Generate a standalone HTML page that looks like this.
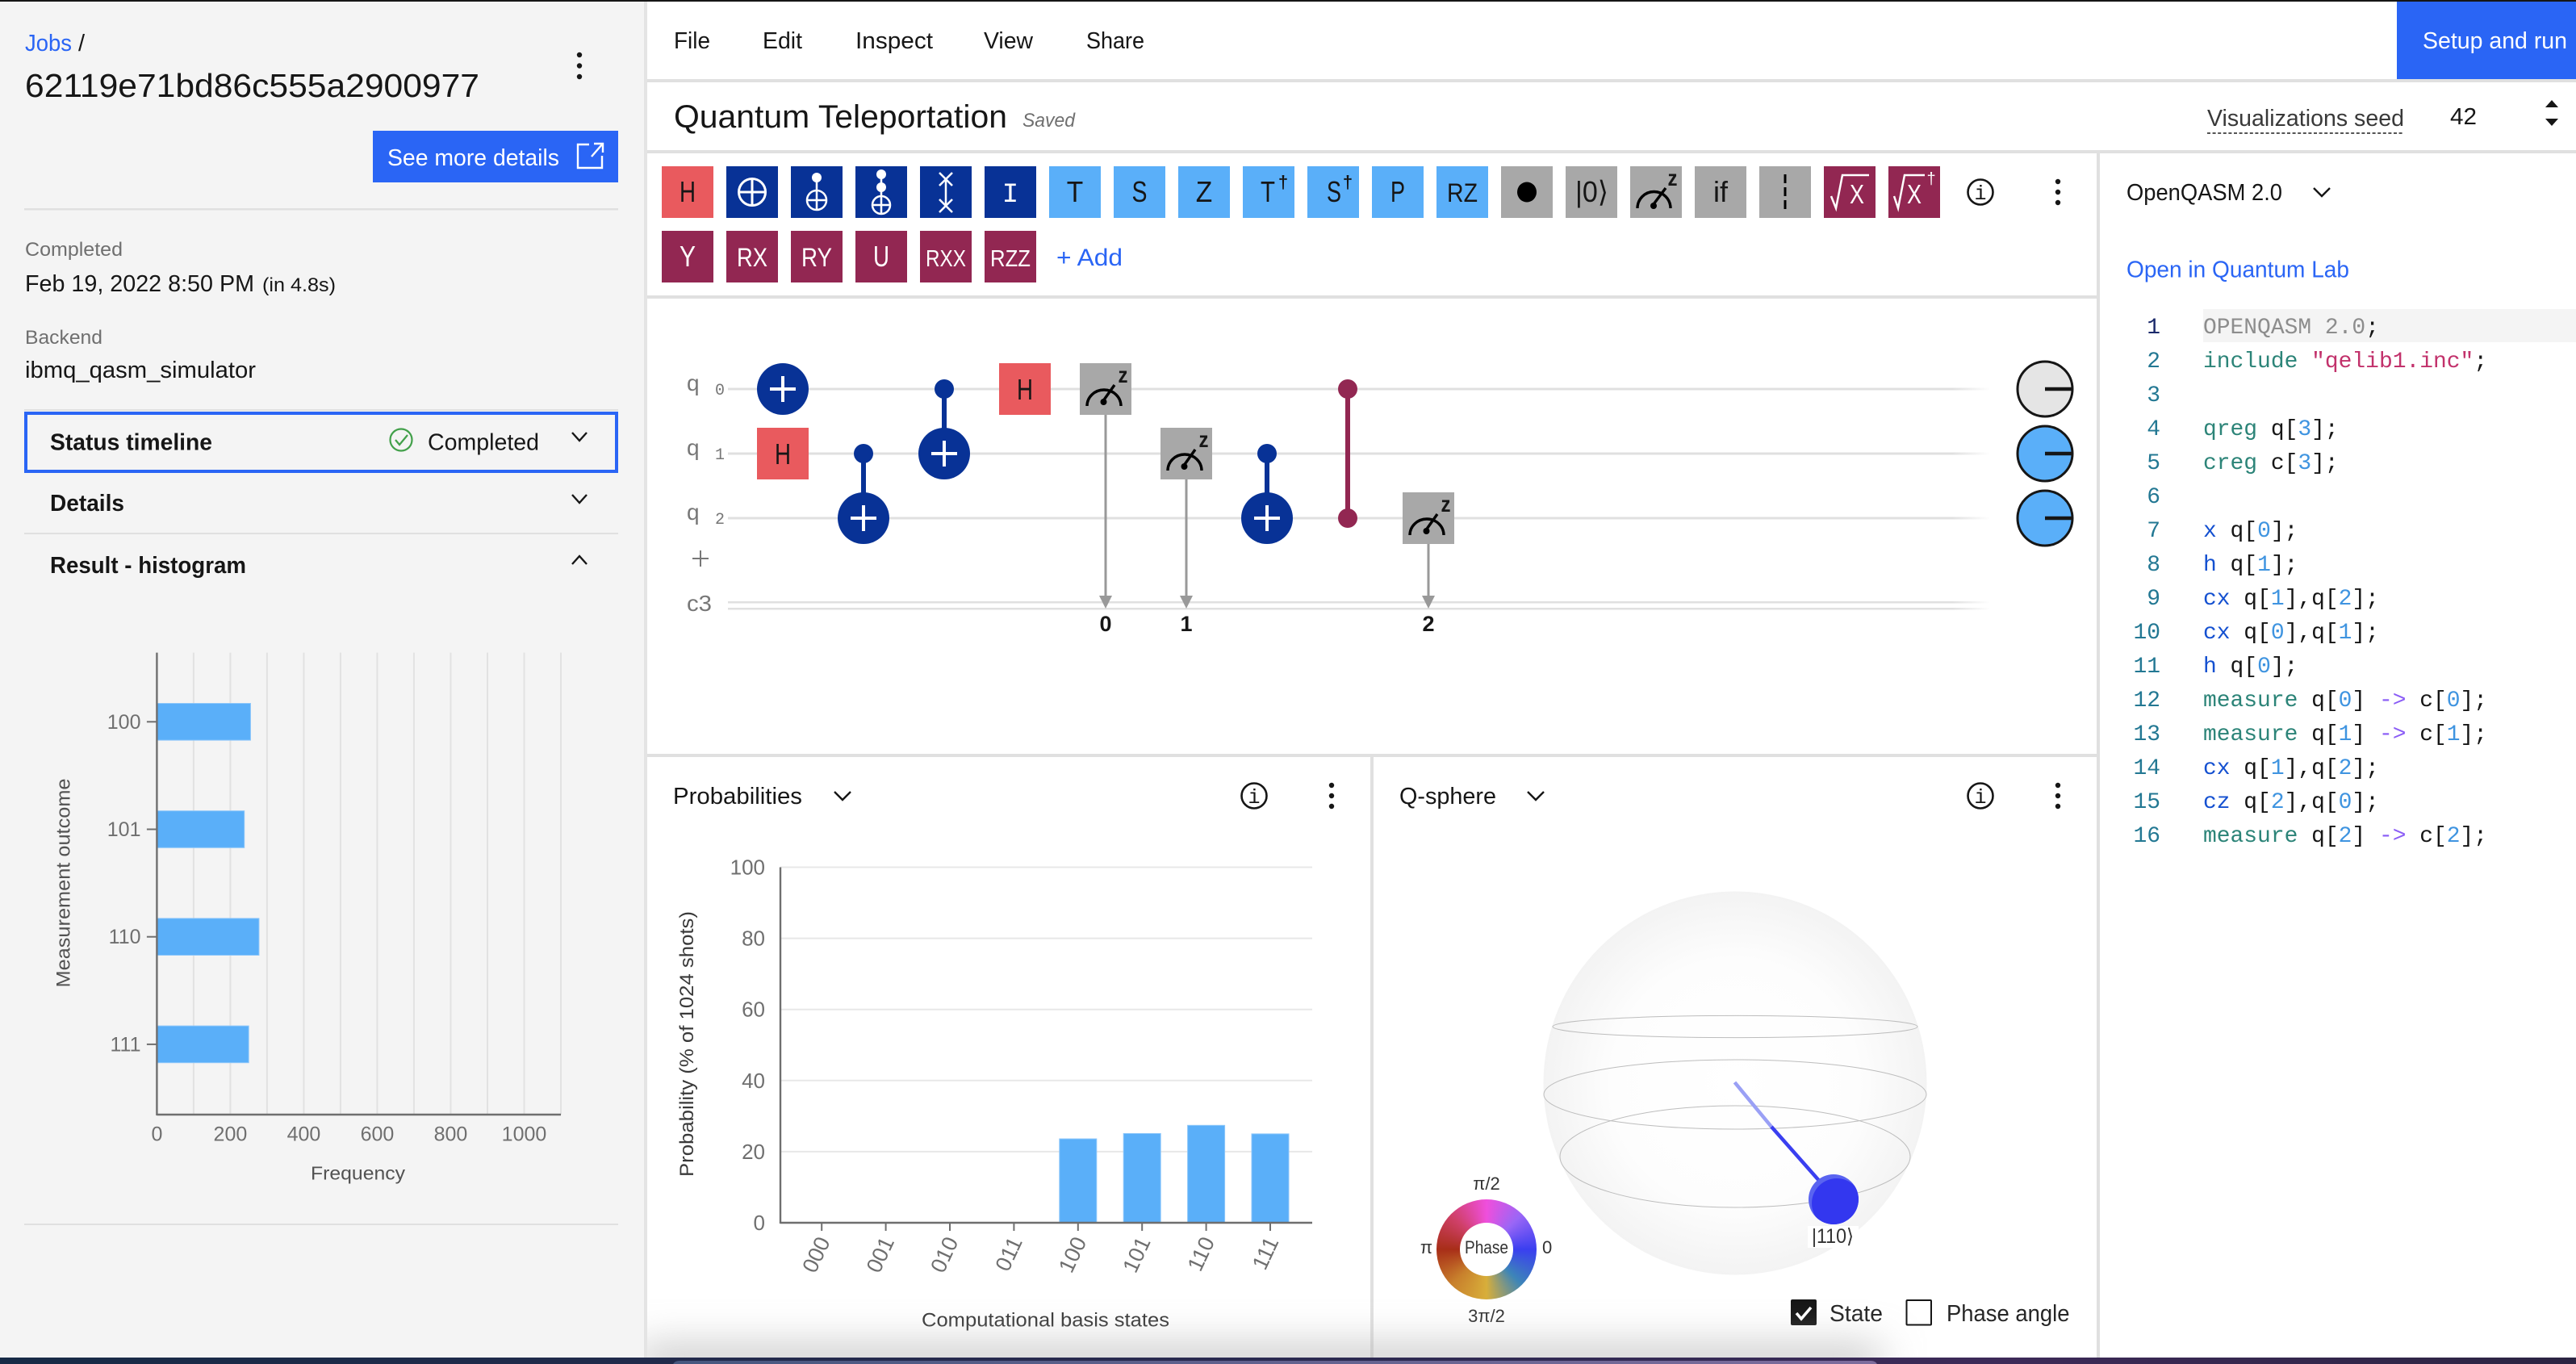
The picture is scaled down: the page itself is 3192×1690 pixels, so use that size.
<!DOCTYPE html>
<html lang="en">
<head>
<meta charset="utf-8">
<title>Quantum Teleportation - IBM Quantum Composer job</title>
<style>
html,body{margin:0;padding:0;background:#fff;width:3192px;height:1690px;overflow:hidden}
svg{display:block}
text{font-family:"Liberation Sans",sans-serif;fill:#161616}
.mono,.mono tspan{font-family:"Liberation Mono",monospace}
.code{font-family:"Liberation Mono",monospace;font-size:27.95px;white-space:pre;fill:#161616}
.ln{font-family:"Liberation Mono",monospace;font-size:27.95px;fill:#237893;text-anchor:end}
.k{fill:#1450d0}.t{fill:#2c8478}.n{fill:#3f94e0}.s{fill:#c2316b}.o{fill:#8a5cf6}
.gt{font-size:36px;text-anchor:middle}
.w{fill:#fff}
.chev{fill:none;stroke:#161616;stroke-width:2.4}
.rule{fill:#e0e0e0}
</style>
</head>
<body>
<svg id="page" xmlns="http://www.w3.org/2000/svg" width="3192" height="1690" viewBox="0 0 3192 1690">
<defs>
<radialGradient id="sphereFill" cx="50%" cy="50%" r="50%">
<stop offset="0" stop-color="#ffffff"/><stop offset="0.65" stop-color="#fdfdfd"/><stop offset="1" stop-color="#f3f3f3"/>
</radialGradient>
<linearGradient id="wireFade" x1="0" x2="1" y1="0" y2="0">
<stop offset="0" stop-color="#e0e0e0"/><stop offset="0.97" stop-color="#e0e0e0"/><stop offset="1" stop-color="#e0e0e0" stop-opacity="0"/>
</linearGradient>
<linearGradient id="stripGrad" x1="0" x2="1" y1="0" y2="0">
<stop offset="0" stop-color="#172a46"/><stop offset="0.5" stop-color="#2b2a50"/><stop offset="0.78" stop-color="#3d2a58"/><stop offset="1" stop-color="#2b2442"/>
</linearGradient>
<linearGradient id="barGrad" x1="0" x2="1" y1="0" y2="0">
<stop offset="0" stop-color="#46577f"/><stop offset="1" stop-color="#7d6c9d"/>
</linearGradient>
<filter id="shadowBlur" x="-10%" y="-300%" width="120%" height="700%"><feGaussianBlur stdDeviation="26"/></filter>
<clipPath id="shadowClip"><rect x="802" y="1560" width="1796" height="122"/></clipPath>
<clipPath id="ballClip"><circle cx="2272" cy="1486" r="31"/></clipPath>
</defs>

<rect width="3192" height="1690" fill="#ffffff"/>

<!-- left panel -->
<g>
<rect x="0" y="0" width="798" height="1690" fill="#f4f4f4"/>
<rect x="798" y="0" width="4" height="1690" fill="#e4e4e4"/>
<text x="31" y="63" font-size="29" fill="#2a65f5" style="fill:#2a65f5" textLength="58" lengthAdjust="spacingAndGlyphs">Jobs</text>
<text x="97" y="63" font-size="29">/</text>
<text x="31" y="120" font-size="41" textLength="563" lengthAdjust="spacingAndGlyphs">62119e71bd86c555a2900977</text>
<g fill="#161616"><circle cx="718" cy="68" r="3.2"/><circle cx="718" cy="81.5" r="3.2"/><circle cx="718" cy="95" r="3.2"/></g>
<g>
<rect x="462" y="162" width="304" height="64" fill="#2a65f5"/>
<text x="480" y="205" font-size="28.5" class="w" style="fill:#fff" textLength="213" lengthAdjust="spacingAndGlyphs">See more details</text>
<path d="M730 179 H716 V208 H746 V193 M733 194 L746 179 M736 178 H747 V189" fill="none" stroke="#fff" stroke-width="2.4"/>
</g>
<rect x="30" y="258" width="736" height="2.5" class="rule"/>
<text x="31" y="317" font-size="24.5" style="fill:#6f6f6f" textLength="121" lengthAdjust="spacingAndGlyphs">Completed</text>
<text x="31" y="361" font-size="28.5" textLength="284" lengthAdjust="spacingAndGlyphs">Feb 19, 2022 8:50 PM</text>
<text x="325" y="361" font-size="24.5" textLength="91" lengthAdjust="spacingAndGlyphs">(in 4.8s)</text>
<text x="31" y="426" font-size="24.5" style="fill:#6f6f6f" textLength="96" lengthAdjust="spacingAndGlyphs">Backend</text>
<text x="31" y="468" font-size="28.5" textLength="286" lengthAdjust="spacingAndGlyphs">ibmq_qasm_simulator</text>
<rect x="30" y="507" width="736" height="2" class="rule"/>
<g>
<rect x="32" y="512" width="732" height="72" fill="none" stroke="#2a65f5" stroke-width="4"/>
<text x="62" y="557.5" font-size="28.5" font-weight="700" textLength="201" lengthAdjust="spacingAndGlyphs">Status timeline</text>
<circle cx="497" cy="545" r="13.5" fill="none" stroke="#42a04a" stroke-width="2.2"/>
<path d="M490 545 L495 551 L505 539" fill="none" stroke="#42a04a" stroke-width="2.2"/>
<text x="530" y="557.5" font-size="28.5" textLength="138" lengthAdjust="spacingAndGlyphs">Completed</text>
<polyline class="chev" points="709,566 718,576 727,566" transform="translate(0,-30)"/>
</g>
<g>
<text x="62" y="633" font-size="28.5" font-weight="700" textLength="92" lengthAdjust="spacingAndGlyphs">Details</text>
<polyline class="chev" points="709,613 718,623 727,613"/>
</g>
<rect x="30" y="660" width="736" height="2" class="rule"/>
<g>
<text x="62" y="710" font-size="28.5" font-weight="700" textLength="243" lengthAdjust="spacingAndGlyphs">Result - histogram</text>
<polyline class="chev" points="709,699 718,689 727,699"/>
</g>
<g id="histogram"></g>
<rect x="30" y="1516" width="736" height="2" class="rule"/>
</g>

<!-- menu bar -->
<g>
<rect x="802" y="98" width="2390" height="4" class="rule"/>
<text x="835" y="60" font-size="28.5" textLength="45" lengthAdjust="spacingAndGlyphs">File</text>
<text x="945" y="60" font-size="28.5" textLength="49" lengthAdjust="spacingAndGlyphs">Edit</text>
<text x="1060" y="60" font-size="28.5" textLength="96" lengthAdjust="spacingAndGlyphs">Inspect</text>
<text x="1219" y="60" font-size="28.5" textLength="61" lengthAdjust="spacingAndGlyphs">View</text>
<text x="1346" y="60" font-size="28.5" textLength="72" lengthAdjust="spacingAndGlyphs">Share</text>
<g>
<rect x="2970" y="2" width="222" height="96" fill="#2a65f5"/>
<text x="3002" y="60" font-size="28.5" class="w" style="fill:#fff" textLength="179" lengthAdjust="spacingAndGlyphs">Setup and run</text>
</g>
</g>

<!-- title row -->
<g>
<text x="835" y="158" font-size="40" textLength="413" lengthAdjust="spacingAndGlyphs">Quantum Teleportation</text>
<text x="1267" y="157" font-size="24.5" font-style="italic" style="fill:#6f6f6f" textLength="65" lengthAdjust="spacingAndGlyphs">Saved</text>
<text x="2735" y="156" font-size="28.5" style="fill:#393939" textLength="244" lengthAdjust="spacingAndGlyphs">Visualizations seed</text>
<line x1="2735" y1="165" x2="2979" y2="165" stroke="#555" stroke-width="2" stroke-dasharray="4 2.6"/>
<text x="3036" y="154" font-size="28.5" textLength="33" lengthAdjust="spacingAndGlyphs">42</text>
<polygon points="3162,124 3170,133 3154,133" fill="#161616"/>
<polygon points="3162,156 3170,147 3154,147" fill="#161616"/>
<rect x="802" y="186" width="2390" height="4" class="rule"/>
</g>

<!-- gate palette -->
<g>
<rect x="802" y="366" width="1796" height="4" class="rule"/>
<g><rect x="820" y="206" width="64" height="64" fill="#e95a5e"/><text x="852" y="250" class="gt" textLength="20" lengthAdjust="spacingAndGlyphs">H</text></g>
<g><rect x="900" y="206" width="64" height="64" fill="#083296"/><circle cx="932" cy="238" r="16.5" fill="none" stroke="#fff" stroke-width="3"/><path d="M915 238H949M932 221V255" stroke="#fff" stroke-width="3"/></g>
<g><rect x="980" y="206" width="64" height="64" fill="#083296"/><circle cx="1012" cy="220" r="6" fill="#fff"/><path d="M1012 220V260" stroke="#fff" stroke-width="2.5"/><circle cx="1012" cy="248" r="12" fill="none" stroke="#fff" stroke-width="2.5"/><path d="M1000 248H1024" stroke="#fff" stroke-width="2.5"/></g>
<g><rect x="1060" y="206" width="64" height="64" fill="#083296"/><circle cx="1092" cy="216" r="6" fill="#fff"/><circle cx="1092" cy="232" r="6" fill="#fff"/><path d="M1092 216V265" stroke="#fff" stroke-width="2.5"/><circle cx="1092" cy="254" r="11" fill="none" stroke="#fff" stroke-width="2.5"/><path d="M1081 254H1103" stroke="#fff" stroke-width="2.5"/></g>
<g><rect x="1140" y="206" width="64" height="64" fill="#083296"/><path d="M1172 222V255M1164 214L1180 230M1180 214L1164 230M1164 247L1180 263M1180 247L1164 263" stroke="#fff" stroke-width="2.5" fill="none"/></g>
<g><rect x="1220" y="206" width="64" height="64" fill="#083296"/><text x="1252" y="250" class="gt mono w" style="font-size:34px;fill:#fff">I</text></g>
<g><rect x="1300" y="206" width="64" height="64" fill="#5aaff9"/><text x="1332" y="250" class="gt" textLength="20.5" lengthAdjust="spacingAndGlyphs">T</text></g>
<g><rect x="1380" y="206" width="64" height="64" fill="#5aaff9"/><text x="1412" y="250" class="gt" textLength="19" lengthAdjust="spacingAndGlyphs">S</text></g>
<g><rect x="1460" y="206" width="64" height="64" fill="#5aaff9"/><text x="1492" y="250" class="gt" textLength="20.5" lengthAdjust="spacingAndGlyphs">Z</text></g>
<g><rect x="1540" y="206" width="64" height="64" fill="#5aaff9"/><text x="1571" y="250" class="gt" textLength="18" lengthAdjust="spacingAndGlyphs">T</text><text x="1590" y="233" class="gt" style="font-size:22px;font-weight:700">†</text></g>
<g><rect x="1620" y="206" width="64" height="64" fill="#5aaff9"/><text x="1653" y="250" class="gt" textLength="18" lengthAdjust="spacingAndGlyphs">S</text><text x="1670" y="233" class="gt" style="font-size:22px;font-weight:700">†</text></g>
<g><rect x="1700" y="206" width="64" height="64" fill="#5aaff9"/><text x="1732" y="250" class="gt" textLength="18" lengthAdjust="spacingAndGlyphs">P</text></g>
<g><rect x="1780" y="206" width="64" height="64" fill="#5aaff9"/><text x="1793" y="250" style="font-size:32px" textLength="38" lengthAdjust="spacingAndGlyphs">RZ</text></g>
<g><rect x="1860" y="206" width="64" height="64" fill="#a8a8a8"/><ellipse cx="1892" cy="238" rx="12" ry="12.5" fill="#000"/></g>
<g><rect x="1940" y="206" width="64" height="64" fill="#a8a8a8"/><text x="1952" y="250" style="font-size:36px" textLength="41" lengthAdjust="spacingAndGlyphs">|0⟩</text></g>
<g><rect x="2020" y="206" width="64" height="64" fill="#a8a8a8"/><path d="M2029 258A20.5 20.5 0 0 1 2070 258" fill="none" stroke="#000" stroke-width="3.4"/><path d="M2049 253L2064 233" stroke="#000" stroke-width="3.4"/><circle cx="2049" cy="255" r="4" fill="#000"/><text x="2072.5" y="230" class="gt" style="font-size:28px;font-weight:700" textLength="12" lengthAdjust="spacingAndGlyphs">z</text></g>
<g><rect x="2100" y="206" width="64" height="64" fill="#a8a8a8"/><text x="2132" y="250" class="gt">if</text></g>
<g><rect x="2180" y="206" width="64" height="64" fill="#a8a8a8"/><line x1="2212" y1="216" x2="2212" y2="262" stroke="#000" stroke-width="3" stroke-dasharray="11 5"/></g>
<g><rect x="2260" y="206" width="64" height="64" fill="#922752"/><polyline points="2269,243 2275,258 2283,217 2316,217" fill="none" stroke="#fff" stroke-width="2.5"/><text x="2301" y="252" class="gt w" style="font-size:33px;fill:#fff" textLength="18" lengthAdjust="spacingAndGlyphs">X</text></g>
<g><rect x="2340" y="206" width="64" height="64" fill="#922752"/><polyline points="2347,243 2352,258 2360,217 2385,217" fill="none" stroke="#fff" stroke-width="2.5"/><text x="2372" y="252" class="gt w" style="font-size:33px;fill:#fff" textLength="18" lengthAdjust="spacingAndGlyphs">X</text><text x="2393" y="228" class="gt w" style="font-size:20px;fill:#fff">†</text></g>
<g><circle cx="2454" cy="238" r="15.5" fill="none" stroke="#161616" stroke-width="2.6"/><text x="2454" y="247" class="gt mono" style="font-size:25px">i</text></g>
<g fill="#161616"><circle cx="2550" cy="225" r="3.2"/><circle cx="2550" cy="238" r="3.2"/><circle cx="2550" cy="251" r="3.2"/></g>
<g><rect x="820" y="286" width="64" height="64" fill="#922752"/><text x="852" y="330" class="gt w" style="fill:#fff" textLength="20" lengthAdjust="spacingAndGlyphs">Y</text></g>
<g><rect x="900" y="286" width="64" height="64" fill="#922752"/><text x="913" y="330" class="w" style="font-size:32px;fill:#fff" textLength="38" lengthAdjust="spacingAndGlyphs">RX</text></g>
<g><rect x="980" y="286" width="64" height="64" fill="#922752"/><text x="993" y="330" class="w" style="font-size:32px;fill:#fff" textLength="38" lengthAdjust="spacingAndGlyphs">RY</text></g>
<g><rect x="1060" y="286" width="64" height="64" fill="#922752"/><text x="1092" y="330" class="gt w" style="fill:#fff" textLength="20" lengthAdjust="spacingAndGlyphs">U</text></g>
<g><rect x="1140" y="286" width="64" height="64" fill="#922752"/><text x="1147" y="330" class="w" style="font-size:29px;fill:#fff" textLength="50" lengthAdjust="spacingAndGlyphs">RXX</text></g>
<g><rect x="1220" y="286" width="64" height="64" fill="#922752"/><text x="1227" y="330" class="w" style="font-size:29px;fill:#fff" textLength="50" lengthAdjust="spacingAndGlyphs">RZZ</text></g>
<text x="1309" y="329" font-size="30" style="fill:#2a65f5" textLength="82" lengthAdjust="spacingAndGlyphs">+ Add</text>
</g>

<!-- circuit -->
<g>
<g>
<rect x="902" y="480.5" width="1564" height="3" fill="url(#wireFade)"/>
<rect x="902" y="560.5" width="1564" height="3" fill="url(#wireFade)"/>
<rect x="902" y="640.5" width="1564" height="3" fill="url(#wireFade)"/>
<rect x="902" y="745" width="1564" height="2.5" fill="url(#wireFade)"/>
<rect x="902" y="753" width="1564" height="2.5" fill="url(#wireFade)"/>
</g>
<g><text x="851" y="484" font-size="28" style="fill:#777">q</text><text x="886" y="489" class="mono" font-size="20" style="fill:#777">0</text></g>
<g><text x="851" y="564" font-size="28" style="fill:#777">q</text><text x="886" y="569" class="mono" font-size="20" style="fill:#777">1</text></g>
<g><text x="851" y="644" font-size="28" style="fill:#777">q</text><text x="886" y="649" class="mono" font-size="20" style="fill:#777">2</text></g>
<path d="M858 692H878M868 682V702" stroke="#777" stroke-width="2"/>
<text x="851" y="757" font-size="28" style="fill:#777" textLength="31" lengthAdjust="spacingAndGlyphs">c3</text>

<g><circle cx="970" cy="482" r="32" fill="#083296"/><path d="M954 482H986M970 466V498" stroke="#fff" stroke-width="4"/></g>
<g><rect x="938" y="530" width="64" height="64" fill="#e95a5e"/><text x="970" y="575" class="gt" textLength="20" lengthAdjust="spacingAndGlyphs">H</text></g>
<g><line x1="1070" y1="562" x2="1070" y2="642" stroke="#083296" stroke-width="6"/><circle cx="1070" cy="562" r="12" fill="#083296"/><circle cx="1070" cy="642" r="32" fill="#083296"/><path d="M1054 642H1086M1070 626V658" stroke="#fff" stroke-width="4"/></g>
<g><line x1="1170" y1="482" x2="1170" y2="562" stroke="#083296" stroke-width="6"/><circle cx="1170" cy="482" r="12" fill="#083296"/><circle cx="1170" cy="562" r="32" fill="#083296"/><path d="M1154 562H1186M1170 546V578" stroke="#fff" stroke-width="4"/></g>
<g><rect x="1238" y="450" width="64" height="64" fill="#e95a5e"/><text x="1270" y="495" class="gt" textLength="20" lengthAdjust="spacingAndGlyphs">H</text></g>

<g><line x1="1370" y1="514" x2="1370" y2="742" stroke="#999" stroke-width="3"/><polygon points="1362,738 1378,738 1370,754" fill="#999"/><rect x="1338" y="450" width="64" height="64" fill="#a8a8a8"/><path d="M1347 503A21 20 0 0 1 1389 503" fill="none" stroke="#000" stroke-width="3.4"/><path d="M1367.5 496L1381 477" stroke="#000" stroke-width="3.4"/><circle cx="1367.5" cy="498" r="4" fill="#000"/><text x="1391.5" y="474" class="gt" style="font-size:28px;font-weight:700" textLength="12" lengthAdjust="spacingAndGlyphs">z</text><text x="1370" y="782" class="gt" style="font-size:27px;font-weight:700">0</text></g>
<g><line x1="1470" y1="594" x2="1470" y2="742" stroke="#999" stroke-width="3"/><polygon points="1462,738 1478,738 1470,754" fill="#999"/><rect x="1438" y="530" width="64" height="64" fill="#a8a8a8"/><path d="M1447 583A21 20 0 0 1 1489 583" fill="none" stroke="#000" stroke-width="3.4"/><path d="M1467.5 576L1481 557" stroke="#000" stroke-width="3.4"/><circle cx="1467.5" cy="578" r="4" fill="#000"/><text x="1491.5" y="554" class="gt" style="font-size:28px;font-weight:700" textLength="12" lengthAdjust="spacingAndGlyphs">z</text><text x="1470" y="782" class="gt" style="font-size:27px;font-weight:700">1</text></g>
<g><line x1="1570" y1="562" x2="1570" y2="642" stroke="#083296" stroke-width="6"/><circle cx="1570" cy="562" r="12" fill="#083296"/><circle cx="1570" cy="642" r="32" fill="#083296"/><path d="M1554 642H1586M1570 626V658" stroke="#fff" stroke-width="4"/></g>
<g><line x1="1670" y1="482" x2="1670" y2="642" stroke="#922752" stroke-width="6"/><circle cx="1670" cy="482" r="12" fill="#922752"/><circle cx="1670" cy="642" r="12" fill="#922752"/></g>
<g><line x1="1770" y1="674" x2="1770" y2="742" stroke="#999" stroke-width="3"/><polygon points="1762,738 1778,738 1770,754" fill="#999"/><rect x="1738" y="610" width="64" height="64" fill="#a8a8a8"/><path d="M1747 663A21 20 0 0 1 1789 663" fill="none" stroke="#000" stroke-width="3.4"/><path d="M1767.5 656L1781 637" stroke="#000" stroke-width="3.4"/><circle cx="1767.5" cy="658" r="4" fill="#000"/><text x="1791.5" y="634" class="gt" style="font-size:28px;font-weight:700" textLength="12" lengthAdjust="spacingAndGlyphs">z</text><text x="1770" y="782" class="gt" style="font-size:27px;font-weight:700">2</text></g>

<g><circle cx="2534" cy="482" r="34" fill="#e5e5e5" stroke="#161616" stroke-width="3"/><line x1="2534" y1="482" x2="2568" y2="482" stroke="#161616" stroke-width="4.5"/></g>
<g><circle cx="2534" cy="562" r="34" fill="#5aaff9" stroke="#161616" stroke-width="3"/><line x1="2534" y1="562" x2="2568" y2="562" stroke="#161616" stroke-width="4.5"/></g>
<g><circle cx="2534" cy="642" r="34" fill="#5aaff9" stroke="#161616" stroke-width="3"/><line x1="2534" y1="642" x2="2568" y2="642" stroke="#161616" stroke-width="4.5"/></g>
</g>

<!-- panel dividers -->
<rect x="802" y="934" width="1796" height="4" class="rule"/>
<rect x="1698" y="938" width="4" height="752" class="rule"/>
<rect x="2598" y="190" width="4" height="1500" class="rule"/>

<!-- probabilities panel -->
<g>
<text x="834" y="996" font-size="28.5" textLength="160" lengthAdjust="spacingAndGlyphs">Probabilities</text>
<polyline class="chev" points="1034,981 1044,991 1054,981"/>
<g><circle cx="1554" cy="986" r="15.5" fill="none" stroke="#161616" stroke-width="2.6"/><text x="1554" y="995" class="gt mono" style="font-size:25px">i</text></g>
<g fill="#161616"><circle cx="1650" cy="973" r="3.2"/><circle cx="1650" cy="986" r="3.2"/><circle cx="1650" cy="999" r="3.2"/></g>
<g id="probabilities"></g>
</g>

<!-- qsphere panel -->
<g>
<text x="1734" y="996" font-size="28.5" textLength="120" lengthAdjust="spacingAndGlyphs">Q-sphere</text>
<polyline class="chev" points="1893,981 1903,991 1913,981"/>
<g><circle cx="2454" cy="986" r="15.5" fill="none" stroke="#161616" stroke-width="2.6"/><text x="2454" y="995" class="gt mono" style="font-size:25px">i</text></g>
<g fill="#161616"><circle cx="2550" cy="973" r="3.2"/><circle cx="2550" cy="986" r="3.2"/><circle cx="2550" cy="999" r="3.2"/></g>
<g>
<circle cx="2150" cy="1342" r="237.5" fill="url(#sphereFill)"/>
<ellipse cx="2150" cy="1272" rx="226" ry="13.6" fill="none" stroke="#bdbdbd" stroke-width="1"/>
<ellipse cx="2150" cy="1356" rx="237" ry="43" fill="none" stroke="#bdbdbd" stroke-width="1"/>
<ellipse cx="2150" cy="1433" rx="217" ry="63" fill="none" stroke="#bdbdbd" stroke-width="1"/>
<line x1="2149.5" y1="1341" x2="2195" y2="1396" stroke="#9aa0f5" stroke-width="4.5"/>
<line x1="2195" y1="1396" x2="2256" y2="1465" stroke="#3a3ff0" stroke-width="4.5"/>
<g><circle cx="2272" cy="1486" r="31" fill="#5a64f0"/><circle cx="2276" cy="1491" r="31" fill="#3337ef" clip-path="url(#ballClip)"/></g>
<rect x="2240" y="1519" width="63" height="27" fill="#ffffff"/>
<text x="2245" y="1540" font-size="25" style="fill:#333" textLength="52" lengthAdjust="spacingAndGlyphs">|110⟩</text>
</g>
<foreignObject x="1780" y="1486" width="124" height="124">
<div style="width:124px;height:124px;border-radius:50%;background:conic-gradient(#ef4fdc 0deg,#9a66f6 45deg,#3a3ff0 90deg,#3d85b8 135deg,#d8ae3a 180deg,#c8802c 225deg,#a82e18 270deg,#d0406a 315deg,#ef4fdc 360deg);position:relative"><div style="position:absolute;left:29px;top:29px;width:66px;height:66px;border-radius:50%;background:#fff"></div></div>
</foreignObject>
<text x="1815" y="1553" font-size="22" style="fill:#333" textLength="54" lengthAdjust="spacingAndGlyphs">Phase</text>
<text x="1842" y="1474" font-size="22" text-anchor="middle" style="fill:#333">π/2</text>
<text x="1842" y="1638" font-size="22" text-anchor="middle" style="fill:#333">3π/2</text>
<text x="1775" y="1553" font-size="22" text-anchor="end" style="fill:#333">π</text>
<text x="1911" y="1553" font-size="22" style="fill:#333">0</text>
<g>
<rect x="2219" y="1610" width="32" height="32" rx="2" fill="#161616"/>
<path d="M2226 1627L2232 1634L2244 1620" fill="none" stroke="#fff" stroke-width="3.6"/>
<text x="2267" y="1637" font-size="28.5" style="fill:#262626" textLength="66" lengthAdjust="spacingAndGlyphs">State</text>
</g>
<g>
<rect x="2362.5" y="1611" width="30.5" height="30.5" rx="1" fill="#fff" stroke="#161616" stroke-width="2"/>
<text x="2412" y="1637" font-size="28.5" style="fill:#262626" textLength="152.5" lengthAdjust="spacingAndGlyphs">Phase angle</text>
</g>
</g>

<!-- code panel -->
<g>
<text x="2635" y="248" font-size="28.5" textLength="193" lengthAdjust="spacingAndGlyphs">OpenQASM 2.0</text>
<polyline class="chev" points="2867,233 2877,243 2887,233"/>
<text x="2635" y="343.5" font-size="28.5" style="fill:#2a65f5" textLength="276" lengthAdjust="spacingAndGlyphs">Open in Quantum Lab</text>
<rect x="2730" y="383" width="462" height="41" fill="#f4f4f4"/>
<g>
<text x="2677" y="413" class="ln" style="fill:#1b2a6b">1</text>
<text x="2677" y="455" class="ln">2</text>
<text x="2677" y="497" class="ln">3</text>
<text x="2677" y="539" class="ln">4</text>
<text x="2677" y="581" class="ln">5</text>
<text x="2677" y="623" class="ln">6</text>
<text x="2677" y="665" class="ln">7</text>
<text x="2677" y="707" class="ln">8</text>
<text x="2677" y="749" class="ln">9</text>
<text x="2677" y="791" class="ln">10</text>
<text x="2677" y="833" class="ln">11</text>
<text x="2677" y="875" class="ln">12</text>
<text x="2677" y="917" class="ln">13</text>
<text x="2677" y="959" class="ln">14</text>
<text x="2677" y="1001" class="ln">15</text>
<text x="2677" y="1043" class="ln">16</text>
</g>
<g>
<text x="2730" y="413" class="code" style="fill:#8d8d8d">OPENQASM 2.0<tspan style="fill:#161616">;</tspan></text>
<text x="2730" y="455" class="code"><tspan class="t">include</tspan> <tspan class="s">"qelib1.inc"</tspan>;</text>
<text x="2730" y="539" class="code"><tspan class="t">qreg</tspan> q[<tspan class="n">3</tspan>];</text>
<text x="2730" y="581" class="code"><tspan class="t">creg</tspan> c[<tspan class="n">3</tspan>];</text>
<text x="2730" y="665" class="code"><tspan class="k">x</tspan> q[<tspan class="n">0</tspan>];</text>
<text x="2730" y="707" class="code"><tspan class="k">h</tspan> q[<tspan class="n">1</tspan>];</text>
<text x="2730" y="749" class="code"><tspan class="k">cx</tspan> q[<tspan class="n">1</tspan>],q[<tspan class="n">2</tspan>];</text>
<text x="2730" y="791" class="code"><tspan class="k">cx</tspan> q[<tspan class="n">0</tspan>],q[<tspan class="n">1</tspan>];</text>
<text x="2730" y="833" class="code"><tspan class="k">h</tspan> q[<tspan class="n">0</tspan>];</text>
<text x="2730" y="875" class="code"><tspan class="t">measure</tspan> q[<tspan class="n">0</tspan>] <tspan class="o">-&gt;</tspan> c[<tspan class="n">0</tspan>];</text>
<text x="2730" y="917" class="code"><tspan class="t">measure</tspan> q[<tspan class="n">1</tspan>] <tspan class="o">-&gt;</tspan> c[<tspan class="n">1</tspan>];</text>
<text x="2730" y="959" class="code"><tspan class="k">cx</tspan> q[<tspan class="n">1</tspan>],q[<tspan class="n">2</tspan>];</text>
<text x="2730" y="1001" class="code"><tspan class="k">cz</tspan> q[<tspan class="n">2</tspan>],q[<tspan class="n">0</tspan>];</text>
<text x="2730" y="1043" class="code"><tspan class="t">measure</tspan> q[<tspan class="n">2</tspan>] <tspan class="o">-&gt;</tspan> c[<tspan class="n">2</tspan>];</text>
</g>
</g>

<!-- window chrome -->
<g clip-path="url(#shadowClip)"><rect x="790" y="1672" width="1540" height="30" fill="#b4b4b4" filter="url(#shadowBlur)"/></g>
<rect x="0" y="1682" width="3192" height="8" fill="url(#stripGrad)"/>
<rect x="834" y="1686" width="1492" height="10" rx="8" fill="url(#barGrad)"/>
<rect x="0" y="0" width="3192" height="2" fill="#161616"/>
</svg>

<script>
// Histogram data (left panel)
const histCategories = ['100', '101', '110', '111'];
const histCounts = [255, 238, 278, 250];
const histGridValues = [100, 200, 300, 400, 500, 600, 700, 800, 900, 1000, 1100];
const histTickLabels = [0, 200, 400, 600, 800, 1000];

// Probabilities data
const probCategories = ['000', '001', '010', '011', '100', '101', '110', '111'];
const probValues = [0, 0, 0, 0, 23.6, 25.1, 27.4, 25.0];
const probTickLabels = [0, 20, 40, 60, 80, 100];

const NS = 'http://www.w3.org/2000/svg';
function make(tag, attrs, parent, text) {
  const node = document.createElementNS(NS, tag);
  for (const key in attrs) node.setAttribute(key, attrs[key]);
  if (text !== undefined) node.textContent = text;
  parent.appendChild(node);
  return node;
}

// Histogram axes
const histRoot = document.getElementById('histogram');
const histLeft = 194.4, histBottom = 1381, histTop = 808.6, histRight = 695;
function histX(v) { return histLeft + (v / 1100) * (histRight - histLeft); }
function histY(i) { return histTop + 85.7 + i * 133.2; }
histGridValues.forEach(function (v) {
  const grid = make('line', {x1: histX(v), x2: histX(v), y1: histTop, y2: histBottom, stroke: '#e2e2e2', 'stroke-width': 2}, histRoot);
  
  
});
histCategories.forEach(function (c, i) {
  const bar = make('rect', {x: histLeft, y: histY(i) - 22.8, width: histX(histCounts[i]) - histLeft, height: 45.6, fill: '#5aaff9', stroke: '#8cc6fa', 'stroke-width': 1}, histRoot);
  
  
  const tick = make('line', {x1: histLeft - 12.5, x2: histLeft, y1: histY(i), y2: histY(i), stroke: '#6f6f6f', 'stroke-width': 2}, histRoot);
  
  
  const label = make('text', {x: 174.5, y: histY(i) + 8.5, 'text-anchor': 'end', 'font-size': 25, style: 'fill:#6f6f6f'}, histRoot, c);
  
  
});
const histYAxis = make('line', {x1: histLeft, x2: histLeft, y1: histTop, y2: histBottom + 1, stroke: '#6f6f6f', 'stroke-width': 2.4}, histRoot);


const histXAxis = make('line', {x1: histLeft, x2: histRight, y1: histBottom, y2: histBottom, stroke: '#6f6f6f', 'stroke-width': 2.4}, histRoot);


histTickLabels.forEach(function (v) {
  const label = make('text', {x: histX(v), y: 1413.5, 'text-anchor': 'middle', 'font-size': 25, style: 'fill:#6f6f6f'}, histRoot, String(v));
  
  
});
const histXTitle = make('text', {x: 385, y: 1461.5, 'font-size': 23, style: 'fill:#525252', textLength: 117, lengthAdjust: 'spacingAndGlyphs'}, histRoot, 'Frequency');


const histYTitle = make('text', {x: 0, y: 0, 'font-size': 24, 'text-anchor': 'middle', transform: 'translate(86.5,1094) rotate(-90)', style: 'fill:#525252', textLength: 259, lengthAdjust: 'spacingAndGlyphs'}, histRoot, 'Measurement outcome');



// Probabilities axes
const probRoot = document.getElementById('probabilities');
const probLeft = 967, probBottom = 1515, probTop = 1074.5, probRight = 1626;
function probY(v) { return probBottom - (v / 100) * (probBottom - probTop); }
function probX(i) { return 1018.2 + i * 79.4; }
probTickLabels.forEach(function (v) {
  if (v > 0) {
    const grid = make('line', {x1: probLeft, x2: probRight, y1: probY(v), y2: probY(v), stroke: '#e8e8e8', 'stroke-width': 2}, probRoot);
    
    
  }
  const label = make('text', {x: 948, y: probY(v) + 9, 'text-anchor': 'end', 'font-size': 26, style: 'fill:#6f6f6f'}, probRoot, String(v));
  
  
});
probCategories.forEach(function (c, i) {
  if (probValues[i] > 0) {
    const bar = make('rect', {x: probX(i) - 23, y: probY(probValues[i]), width: 46, height: probBottom - probY(probValues[i]), fill: '#5aaff9', stroke: '#8cc6fa', 'stroke-width': 1}, probRoot);
    
    
  }
  const tick = make('line', {x1: probX(i), x2: probX(i), y1: probBottom, y2: probBottom + 10, stroke: '#6f6f6f', 'stroke-width': 2}, probRoot);
  
  
  const label = make('text', {x: 0, y: 0, 'text-anchor': 'end', 'font-size': 27, transform: 'translate(' + (probX(i) + 11) + ',1538) rotate(-65)', style: 'fill:#6f6f6f'}, probRoot, c);
  
  
});
const probYAxis = make('line', {x1: probLeft, x2: probLeft, y1: probTop, y2: probBottom + 1, stroke: '#6f6f6f', 'stroke-width': 2.4}, probRoot);


const probXAxis = make('line', {x1: probLeft, x2: probRight, y1: probBottom, y2: probBottom, stroke: '#6f6f6f', 'stroke-width': 2.4}, probRoot);


const probXTitle = make('text', {x: 1142, y: 1643.5, 'font-size': 24, style: 'fill:#393939', textLength: 307, lengthAdjust: 'spacingAndGlyphs'}, probRoot, 'Computational basis states');


const probYTitle = make('text', {x: 0, y: 0, 'font-size': 24, 'text-anchor': 'middle', transform: 'translate(859,1293.5) rotate(-90)', style: 'fill:#393939', textLength: 329, lengthAdjust: 'spacingAndGlyphs'}, probRoot, 'Probability (% of 1024 shots)');


</script>
</body>
</html>
